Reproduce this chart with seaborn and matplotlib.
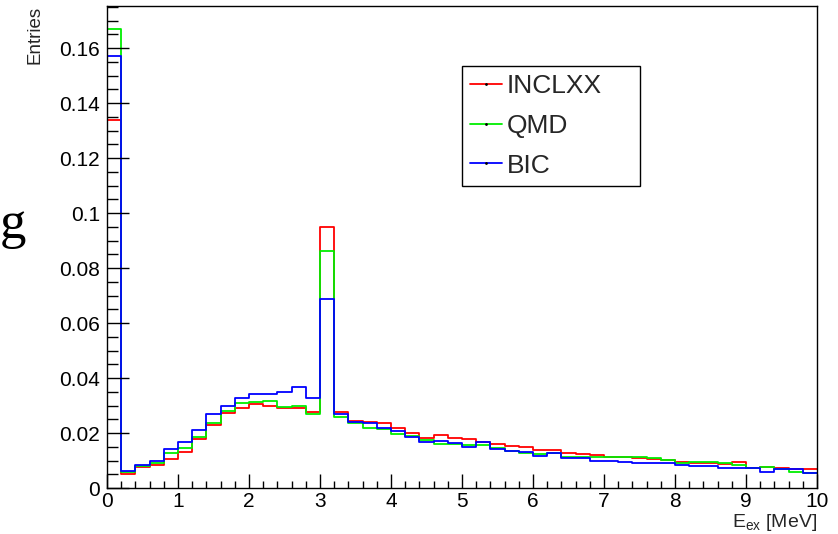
import numpy as np
import pandas as pd
import matplotlib
matplotlib.use("Agg")
import matplotlib.pyplot as plt
from matplotlib.lines import Line2D
from matplotlib.ticker import MultipleLocator
import seaborn as sns

# ---------------- data ----------------
bin_edges = [round(0.2 * i, 4) for i in range(51)]
bin_centers = [round(0.2 * i + 0.1, 4) for i in range(50)]

inclxx = [0.1340, 0.0052, 0.0075, 0.0085, 0.0104, 0.0132, 0.0178, 0.0229, 0.0272, 0.0290,
          0.0304, 0.0297, 0.0290, 0.0290, 0.0275, 0.0948, 0.0275, 0.0242, 0.0239, 0.0238,
          0.0220, 0.0201, 0.0182, 0.0193, 0.0183, 0.0177, 0.0166, 0.0159, 0.0153, 0.0148,
          0.0140, 0.0138, 0.0128, 0.0124, 0.0120, 0.0114, 0.0113, 0.0108, 0.0104, 0.0102,
          0.0093, 0.0091, 0.0090, 0.0089, 0.0093, 0.0074, 0.0075, 0.0074, 0.0069, 0.0069]
qmd = [0.1668, 0.0057, 0.0080, 0.0091, 0.0128, 0.0147, 0.0187, 0.0238, 0.0280, 0.0308,
       0.0312, 0.0316, 0.0296, 0.0299, 0.0268, 0.0862, 0.0257, 0.0237, 0.0219, 0.0215,
       0.0197, 0.0189, 0.0175, 0.0161, 0.0160, 0.0156, 0.0155, 0.0144, 0.0135, 0.0126,
       0.0123, 0.0126, 0.0114, 0.0114, 0.0114, 0.0114, 0.0113, 0.0111, 0.0108, 0.0103,
       0.0092, 0.0093, 0.0093, 0.0090, 0.0084, 0.0074, 0.0078, 0.0068, 0.0059, 0.0054]
bic = [0.1570, 0.0062, 0.0084, 0.0098, 0.0141, 0.0168, 0.0211, 0.0269, 0.0299, 0.0326,
       0.0341, 0.0342, 0.0350, 0.0368, 0.0326, 0.0687, 0.0268, 0.0241, 0.0235, 0.0217,
       0.0206, 0.0187, 0.0168, 0.0172, 0.0162, 0.0150, 0.0166, 0.0141, 0.0135, 0.0130,
       0.0118, 0.0126, 0.0108, 0.0108, 0.0098, 0.0098, 0.0093, 0.0090, 0.0090, 0.0090,
       0.0084, 0.0081, 0.0081, 0.0072, 0.0072, 0.0074, 0.0057, 0.0068, 0.0068, 0.0053]

series_names = ["INCLXX", "QMD", "BIC"]
series_values = [inclxx, qmd, bic]
series_colors = ["#ff0000", "#00ee00", "#0000ff"]

x_ticks = list(range(0, 11))
x_tick_labels = [str(v) for v in x_ticks]
y_ticks = [0.0, 0.02, 0.04, 0.06, 0.08, 0.10, 0.12, 0.14, 0.16]
y_tick_labels = ["0", "0.02", "0.04", "0.06", "0.08", "0.1", "0.12", "0.14", "0.16"]

df = pd.concat([
    pd.DataFrame({"E": bin_centers, "w": vals, "model": name})
    for name, vals in zip(series_names, series_values)
], ignore_index=True)

# ---------------- style ----------------
sns.set_theme(style="ticks")
plt.rcParams.update({
    "font.family": ["Liberation Sans", "DejaVu Sans"],
    "mathtext.default": "regular",
    "axes.axisbelow": False,
    "xtick.bottom": True, "xtick.top": False,
    "ytick.left": True, "ytick.right": False,
    "xtick.direction": "in", "ytick.direction": "in",
    "xtick.major.size": 10, "xtick.minor.size": 5,
    "ytick.major.size": 16, "ytick.minor.size": 8,
    "xtick.major.width": 1.0, "xtick.minor.width": 1.0,
    "ytick.major.width": 1.0, "ytick.minor.width": 1.0,
    "xtick.color": "black", "ytick.color": "black",
    "xtick.labelcolor": "black", "ytick.labelcolor": "black",
    "xtick.labelsize": 15, "ytick.labelsize": 15,
    "xtick.major.pad": 3, "ytick.major.pad": 5,
    "axes.edgecolor": "black", "axes.linewidth": 1.0,
})

fig = plt.figure(figsize=(8.38, 5.34), dpi=100)
ax = fig.add_axes([107 / 838, 46 / 534, 710 / 838, 482 / 534])

for name, color in zip(series_names, series_colors):
    sub = df[df["model"] == name].reset_index(drop=True)
    sns.histplot(data=sub, x="E", weights="w", bins=bin_edges,
                 element="step", fill=False, color=color, linewidth=1.3, ax=ax)

ax.set_xlim(0, 10)
ax.set_ylim(0, 0.1753)

ax.set_xticks(x_ticks)
ax.set_xticklabels(x_tick_labels)
ax.xaxis.set_minor_locator(MultipleLocator(0.2))
ax.set_yticks(y_ticks)
ax.set_yticklabels(y_tick_labels)
ax.yaxis.set_minor_locator(MultipleLocator(0.005))

ax.tick_params(axis="x", which="major", direction="in", length=10, width=1.0,
               color="black", labelsize=15, pad=3, top=False, bottom=True)
ax.tick_params(axis="x", which="minor", direction="in", length=5, width=1.0,
               color="black", top=False, bottom=True)
ax.tick_params(axis="y", which="major", direction="in", length=16, width=1.0,
               color="black", labelsize=15, pad=5, left=True, right=False)
ax.tick_params(axis="y", which="minor", direction="in", length=8, width=1.0,
               color="black", left=True, right=False)
ax.set_axisbelow(False)
ax.xaxis.set_zorder(5)
ax.yaxis.set_zorder(5)

for s in ax.spines.values():
    s.set_color("black")
    s.set_linewidth(1.0)
    s.set_visible(True)
ax.grid(False)

ax.set_xlabel("E$_{ex}$ [MeV]", fontsize=14, loc="right")
ax.xaxis.set_label_coords(1.0, -0.049)
ax.set_ylabel("Entries", fontsize=13.5, loc="top")
ax.yaxis.set_label_coords(-0.090, 1.0)

handles = [Line2D([0], [0], color=c, linewidth=1.3, marker=".", markersize=2,
                  markerfacecolor="black", markeredgecolor="black")
           for c in series_colors]
leg = ax.legend(handles, series_names, loc="upper left",
                bbox_to_anchor=(0.5, 0.6245, 0.251, 0.251), mode="expand",
                fontsize=19, frameon=True, fancybox=False, framealpha=1,
                edgecolor="black", handlelength=1.2, handletextpad=0.2,
                labelspacing=0.6, borderpad=0.3, borderaxespad=0.0, numpoints=1)
leg.get_frame().set_linewidth(1.0)

fig.text(0.0, 1 - 238 / 534, "g", fontsize=38, family=["Liberation Serif", "DejaVu Serif"],
         ha="left", va="baseline", color="black")

fig.savefig("out.png", dpi=100, facecolor="white")
